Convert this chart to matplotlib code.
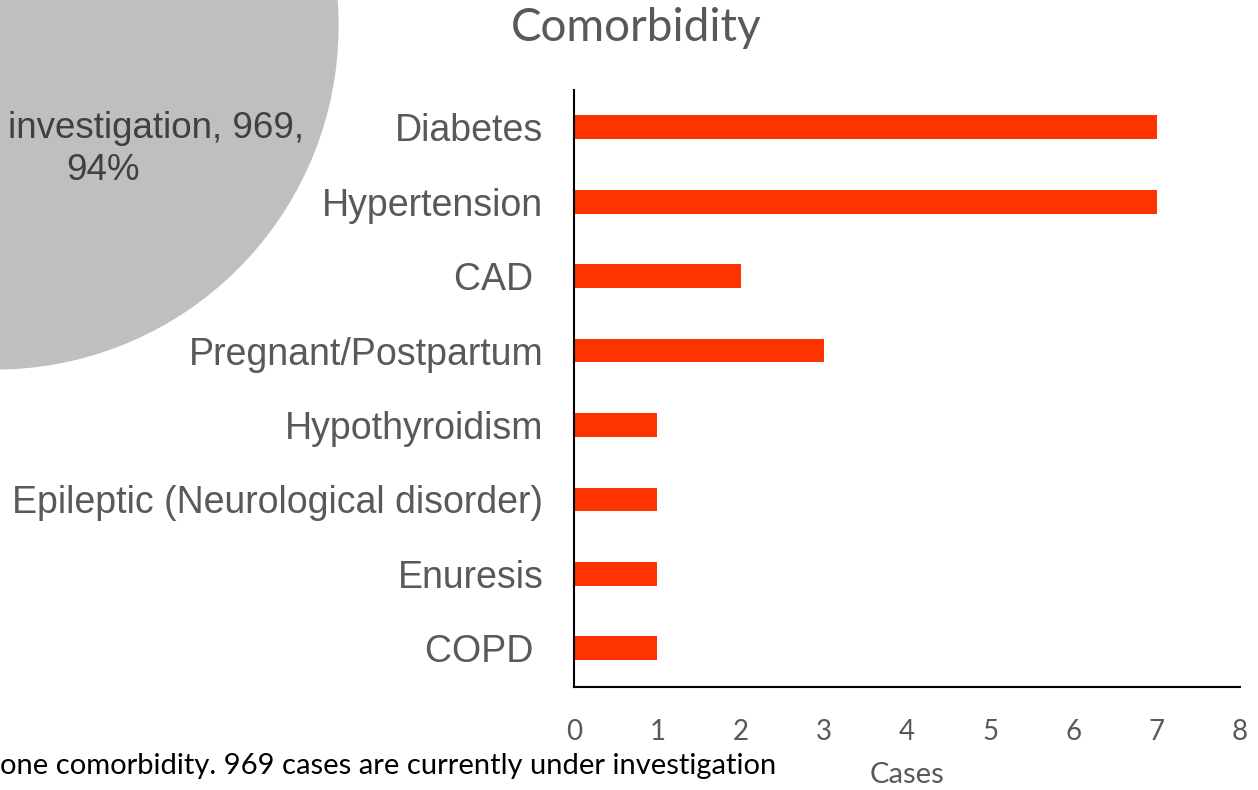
import matplotlib
matplotlib.use("Agg")
import matplotlib.pyplot as plt

# comorbidity counts (top to bottom as in the slide)
categories = ["Diabetes", "Hypertension", "CAD ", "Pregnant/Postpartum",
              "Hypothyroidism", "Epileptic (Neurological disorder)",
              "Enuresis", "COPD "]
cases = [7, 7, 2, 3, 1, 1, 1, 1]

# pie (mostly cropped away on the left)
pie_values = [969, 62]
pie_colors = ["#BFBFBF", "#4472C4"]

W, H = 1258, 790
fig = plt.figure(figsize=(W / 100, H / 100), dpi=100)

# --- pie piece, centred off the left/top edge
cx, cy, r = -5, 26, 345
ax_pie = fig.add_axes([(cx - r) / W, 1 - (cy + r) / H, 2 * r / W, 2 * r / H])
ax_pie.pie(pie_values, colors=pie_colors, startangle=92, counterclock=False,
           wedgeprops=dict(edgecolor="white", linewidth=2))
ax_pie.set_xlim(-1, 1)
ax_pie.set_ylim(-1, 1)
ax_pie.set_axis_off()

fig.text(8 / W, 1 - 128 / H, "investigation, 969,", fontsize=26.5, color="#404040",
         family="Liberation Sans", ha="left", va="center")
fig.text(66 / W, 1 - 171 / H, "94%", fontsize=26.5, color="#404040",
         family="Liberation Sans", ha="left", va="center")

# --- bar chart
ax = fig.add_axes([574 / W, 1 - 687 / H, (1240 - 574) / W, (687 - 90) / H])
ypos = list(range(len(categories)))[::-1]
ax.barh(ypos, cases, height=0.32, color="#FF3300")
ax.set_xlim(0, 8)
ax.set_ylim(-0.52, 7.5)
ax.set_yticks(ypos)
ax.set_yticklabels(categories, fontsize=27, color="#595959", family="Liberation Sans",
                   va="center_baseline")
ax.set_xticks(range(0, 9))
ax.set_xticklabels([str(i) for i in range(0, 9)], fontsize=20, color="#595959",
                   family="Lato")
ax.tick_params(axis="y", length=0, pad=22)
ax.tick_params(axis="x", length=0, pad=23)
for s in ("top", "right"):
    ax.spines[s].set_visible(False)
for s in ("left", "bottom"):
    ax.spines[s].set_linewidth(1.5)
    ax.spines[s].set_color("black")
ax.set_facecolor("none")

fig.text(636 / W, 1 - 28 / H, "Comorbidity", fontsize=33, color="#595959",
         family="Lato", ha="center", va="center")
fig.text(907 / W, 1 - 775 / H, "Cases", fontsize=21, color="#595959",
         family="Lato", ha="center", va="center")
fig.text(0, 1 - 766 / H, "one comorbidity. 969 cases are currently under investigation",
         fontsize=21, color="black", family="Lato", ha="left", va="center")

fig.savefig("out.png", dpi=100)
